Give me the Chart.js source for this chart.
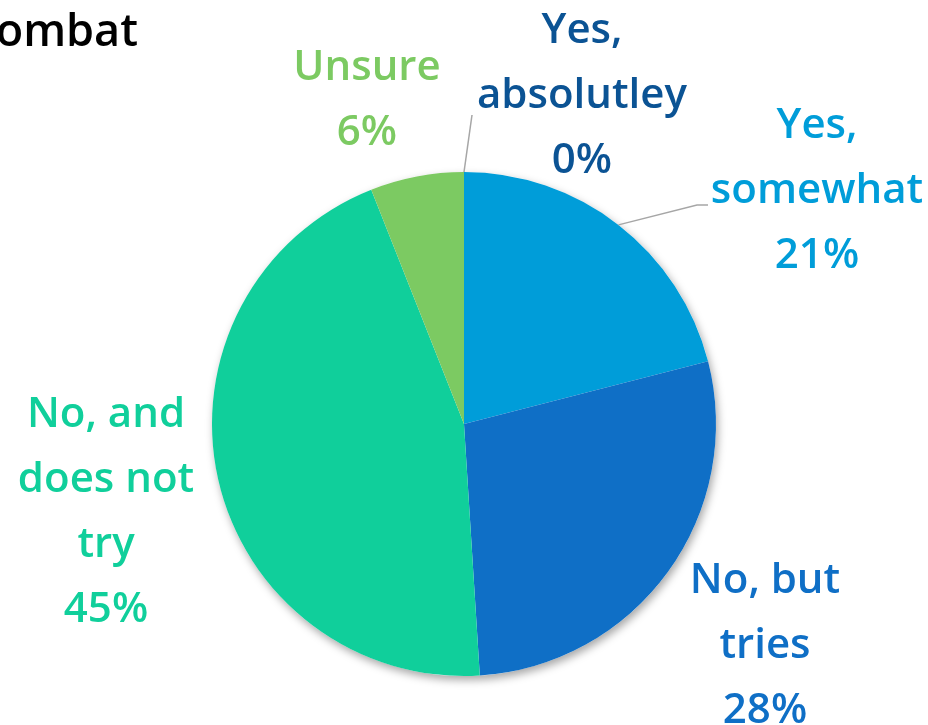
<!DOCTYPE html>
<html>
<head>
<meta charset="utf-8">
<title>Pie</title>
<script src="https://cdn.jsdelivr.net/npm/chart.js@4.4.1/dist/chart.umd.min.js"></script>
<style>
  html, body { margin: 0; padding: 0; background: #fff; }
  canvas { display: block; }
</style>
</head>
<body>
<canvas id="myChart" width="928" height="725"></canvas>
<script>
// answers, in order clockwise from 12 o'clock
const categories = [['Yes,', 'absolutley'], ['Yes,', 'somewhat'], ['No, but', 'tries'], ['No, and', 'does not', 'try'], ['Unsure']];
const percents = [0, 21, 28, 45, 6];
const sliceColors = ['#0B5394', '#009DD9', '#0F6FC6', '#10CF9B', '#7CCA62'];
const titleText = 'ombat';

// where each label block sits (first baseline, relative to the pie centre)
const labelAnchors = [[118, -381], [353, -286], [301, 169], [-358, 3], [-97, -344]];
// leader lines: bend points relative to the pie centre, null = no line
const leaders = [[[8, -309]], [[233, -219], [244, -219]], null, null, null];

const FONT = '"Open Sans", sans-serif';
const LINE_GAP = 65;

// soft shadow under the whole disc
const pieShadow = {
    id: 'pieShadow',
    beforeDatasetsDraw(chart) {
        const arc = chart.getDatasetMeta(0).data[0];
        const ctx = chart.ctx;
        ctx.save();
        ctx.shadowColor = 'rgba(0,0,0,0.35)';
        ctx.shadowBlur = 9;
        ctx.shadowOffsetX = 2;
        ctx.shadowOffsetY = 4;
        ctx.fillStyle = '#fff';
        ctx.beginPath();
        ctx.arc(arc.x, arc.y, arc.outerRadius, 0, Math.PI * 2);
        ctx.fill();
        ctx.restore();
    }
};

// category + percent labels, leader lines and the clipped title
const sliceLabels = {
    id: 'sliceLabels',
    afterDatasetsDraw(chart) {
        const ctx = chart.ctx;
        const arcs = chart.getDatasetMeta(0).data;
        const cx = arcs[0].x, cy = arcs[0].y;

        ctx.save();
        ctx.strokeStyle = '#A6A6A6';
        ctx.lineWidth = 1.5;
        arcs.forEach((arc, i) => {
            if (!leaders[i]) return;
            const mid = (arc.startAngle + arc.endAngle) / 2;
            ctx.beginPath();
            ctx.moveTo(cx + Math.cos(mid) * arc.outerRadius, cy + Math.sin(mid) * arc.outerRadius);
            leaders[i].forEach(p => ctx.lineTo(cx + p[0], cy + p[1]));
            ctx.stroke();
        });

        ctx.font = '600 42px ' + FONT;
        ctx.textAlign = 'center';
        ctx.textBaseline = 'alphabetic';
        categories.forEach((lines, i) => {
            const all = lines.concat([percents[i] + '%']);
            ctx.fillStyle = sliceColors[i];
            all.forEach((t, k) => {
                ctx.fillText(t, cx + labelAnchors[i][0], cy + labelAnchors[i][1] + k * LINE_GAP);
            });
        });

        ctx.fillStyle = '#000';
        ctx.textAlign = 'right';
        ctx.font = '600 45px ' + FONT;
        ctx.fillText(titleText, 138, 46);
        ctx.restore();
    }
};

const ctx = document.getElementById('myChart').getContext('2d');
const myChart = new Chart(ctx, {
    type: 'pie',
    data: {
        labels: categories.map(c => c.join(' ')),
        datasets: [{
            data: percents,
            backgroundColor: sliceColors,
            borderWidth: 0,
            hoverOffset: 0
        }]
    },
    options: {
        responsive: false,
        animation: false,
        devicePixelRatio: 1,
        layout: { padding: { left: 212, right: 212, top: 172, bottom: 49 } },
        plugins: {
            legend: { display: false },
            tooltip: { enabled: false },
            title: { display: false }
        }
    },
    plugins: [pieShadow, sliceLabels]
});
</script>
</body>
</html>
